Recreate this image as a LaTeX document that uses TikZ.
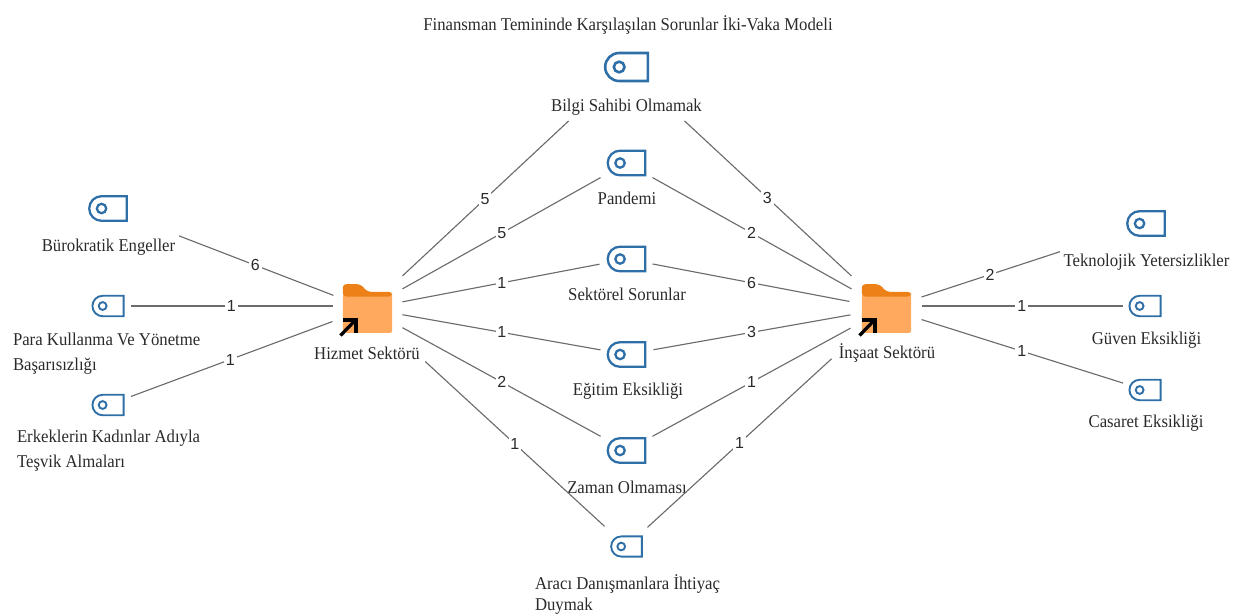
\documentclass[tikz,border=0pt]{standalone}
\usepackage{fontspec}
\setmainfont[FakeStretch=0.93]{Liberation Serif}
\newfontfamily\edgefont{Liberation Sans}
\usetikzlibrary{shapes.misc}
\definecolor{tagblue}{HTML}{2F6FA8}
\definecolor{edgegray}{HTML}{6C6C6C}
\definecolor{folderbody}{HTML}{FFA95E}
\definecolor{foldertab}{HTML}{EE8018}
\definecolor{labelink}{HTML}{2A2A2A}
\tikzset{
  x=0.75pt,y=-0.75pt,
  tagicon/.style={rounded rectangle,rounded rectangle right arc=none,draw=tagblue,
    line width=#1*1.95pt,inner sep=0pt,outer sep=0pt,
    minimum width=#1*32pt,minimum height=#1*21pt,
    path picture={\draw[tagblue,line width=#1*1.95pt]
      ([xshift=#1*10.5pt]path picture bounding box.west) circle (#1*4pt);}},
  txt/.style={font=\fontsize{13.5}{15}\selectfont,text=labelink,inner sep=0pt,outer sep=0pt},
  edge/.style={draw=edgegray,line width=0.85pt},
  elabel/.style={font=\edgefont\fontsize{12}{12}\selectfont,text=labelink,fill=white,inner sep=1.4pt},
  foldernode/.style={minimum width=37pt,minimum height=37pt,inner sep=0pt,outer sep=0pt},
  folderpic/.pic={
    \fill[folderbody,rounded corners=1.5pt] (-24.7,-14) rectangle (24.7,24.3);
    \fill[foldertab,rounded corners=2.5pt] (-24.7,-12) -- (-24.7,-24.3) -- (-7,-24.3) -- (0,-16.7) -- (24.7,-16.7) -- (24.7,-12) -- cycle;
    \draw[black,line width=2.5pt] (-27,27) -- (-12.5,12);
    \draw[black,line width=2.5pt] (-25,11.5) -- (-11.5,11.5) -- (-11.5,24);
  }
}
\newcommand\conn[6]{\draw[edge,shorten <=#3*0.75pt,shorten >=#4*0.75pt] (#1.center) -- node[elabel,pos=#5] (l#1#2) {#6} (#2.center);}
\begin{document}
\begin{tikzpicture}
\useasboundingbox (0,0) rectangle (1243,615);
% central nodes
\node[foldernode] (H) at (367.5,308.5) {};
\pic at (H.center) {folderpic};
\node[foldernode] (I) at (886.5,308.5) {};
\pic at (I.center) {folderpic};
\coordinate (HL) at (367.5,306);
\coordinate (IR) at (886.5,306);
% icons
\node[tagicon=1.0] (Bilgi) at (626.5,67) {};
\node[tagicon=0.88] (Pand) at (626.5,163) {};
\node[tagicon=0.88] (Sek) at (626.5,259) {};
\node[tagicon=0.88] (Egit) at (626.5,354.5) {};
\node[tagicon=0.88] (Zam) at (626.5,450.5) {};
\node[tagicon=0.72] (Arac) at (626.5,546.5) {};
\node[tagicon=0.88] (Bur) at (108,208.5) {};
\node[tagicon=0.73] (Para) at (108,306) {};
\node[tagicon=0.73] (Erk) at (108,405) {};
\node[tagicon=0.88] (Tek) at (1146,223.5) {};
\node[tagicon=0.73] (Guv) at (1145,306) {};
\node[tagicon=0.73] (Cas) at (1145,390) {};
% texts
\node[txt] (tTitle) at (628,25) {Finansman Temininde Karşılaşılan Sorunlar İki-Vaka Modeli};
\node[txt] (tBilgi) at (626.5,107.5) {Bilgi Sahibi Olmamak};
\node[txt] (tPand) at (627,198) {Pandemi};
\node[txt] (tSek) at (627,294.5) {Sektörel Sorunlar};
\node[txt] (tEgit) at (628,391) {Eğitim Eksikliği};
\node[txt] (tZam) at (627,487.5) {Zaman Olmaması};
\node[txt,align=left,anchor=west,font=\fontsize{13.5}{15.75}\selectfont] (tArac) at (535,595) {Aracı Danışmanlara İhtiyaç\\Duymak};
\node[txt] (tBur) at (108.5,247) {Bürokratik Engeller};
\node[txt,align=left,anchor=west,font=\fontsize{13.5}{18.75}\selectfont] (tPara) at (13,353.5) {Para Kullanma Ve Yönetme\\Başarısızlığı};
\node[txt,align=left,anchor=west,font=\fontsize{13.5}{18.75}\selectfont] (tErk) at (17,451) {Erkeklerin Kadınlar Adıyla\\Teşvik Almaları};
\node[txt] (tH) at (367,353) {Hizmet Sektörü};
\node[txt] (tI) at (887,353) {İnşaat Sektörü};
\node[txt] (tTek) at (1146.5,262) {Teknolojik Yetersizlikler};
\node[txt] (tGuv) at (1146.5,340.5) {Güven Eksikliği};
\node[txt] (tCas) at (1146,423) {Casaret Eksikliği};
% connectors
\conn{H}{Bilgi}{47.8}{79.2}{.454}{5}
\conn{H}{Pand}{40.1}{29.8}{.519}{5}
\conn{H}{Sek}{35.6}{27.5}{.519}{1}
\conn{H}{Egit}{35.5}{26.4}{.519}{1}
\conn{H}{Zam}{39.9}{29.6}{.519}{2}
\conn{H}{Arac}{78.5}{29.8}{.569}{1}
\conn{Bilgi}{I}{79.2}{47.8}{.542}{3}
\conn{Pand}{I}{29.8}{40.1}{.481}{2}
\conn{Sek}{I}{26.5}{37.7}{.481}{6}
\conn{Egit}{I}{27.4}{36.6}{.481}{3}
\conn{Zam}{I}{29.6}{41}{.481}{1}
\conn{Arac}{I}{28.4}{74.4}{.435}{1}
\conn{I}{Tek}{36.8}{90.5}{.399}{2}
\conn{IR}{Guv}{35}{22}{.523}{1}
\conn{I}{Cas}{36.7}{23}{.523}{1}
\conn{Bur}{H}{76.2}{36.5}{.568}{6}
\conn{Para}{HL}{23}{35}{.475}{1}
\conn{Erk}{H}{24.5}{37.3}{.471}{1}
\end{tikzpicture}
\end{document}
